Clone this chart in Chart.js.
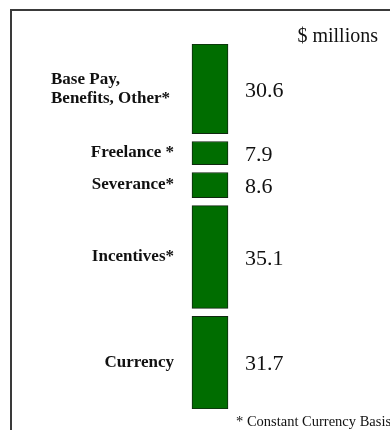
<!DOCTYPE html>
<html lang="en">
<head>
    <meta charset="UTF-8">
    <title>Cost breakdown</title>
    <script src="https://cdn.jsdelivr.net/npm/chart.js"></script>
    <style>
        html, body {
            margin: 0;
            padding: 0;
            background: #fff;
            overflow: hidden;
        }
        #wrap {
            position: relative;
            width: 390px;
            height: 430px;
        }
        #chart {
            position: absolute;
            left: 0;
            top: 0;
        }
        .frame {
            position: absolute;
            left: 10px;
            top: 9px;
            width: 400px;
            height: 440px;
            border: 2px solid #3a3a3a;
            pointer-events: none;
        }
        .note {
            position: absolute;
            left: 236px;
            top: 413px;
            font-family: "Liberation Serif", serif;
            font-size: 14.5px;
            color: #111;
            white-space: nowrap;
        }
    </style>
</head>
<body>
    <div id="wrap">
        <canvas id="chart" width="390" height="430"></canvas>
        <div class="frame"></div>
        <div class="note" id="note"></div>
    </div>

    <script>
        // data, top segment first
        const categories = [['Base Pay,', 'Benefits, Other*'], 'Freelance *', 'Severance*', 'Incentives*', 'Currency'];
        const values = [30.6, 7.9, 8.6, 35.1, 31.7];
        const unitLabel = '$ millions';
        const footnote = '* Constant Currency Basis';

        document.getElementById('note').textContent = footnote;

        // gap between segments, in value units
        const gap = 2.7;
        const ranges = [];
        let start = 0;
        values.forEach(function (v) {
            ranges.push([start, start + v]);
            start += v + gap;
        });
        const total = start - gap;

        const datasets = values.map(function (v, i) {
            return {
                label: Array.isArray(categories[i]) ? categories[i].join(' ') : categories[i],
                data: [ranges[i]],
                backgroundColor: '#006d00',
                borderColor: '#102810',
                borderWidth: 1,
                borderSkipped: false,
                barThickness: 36
            };
        });

        // category names left of the column, values right of it
        const segmentLabels = {
            id: 'segmentLabels',
            afterDatasetsDraw(chart) {
                const ctx = chart.ctx;
                ctx.save();
                ctx.fillStyle = '#111';
                ctx.textBaseline = 'middle';
                chart.data.datasets.forEach(function (ds, i) {
                    const bar = chart.getDatasetMeta(i).data[0];
                    const mid = (bar.y + bar.base) / 2;
                    const left = bar.x - bar.width / 2;
                    const right = bar.x + bar.width / 2;

                    ctx.font = 'bold 17px "Liberation Serif"';
                    const name = categories[i];
                    if (Array.isArray(name)) {
                        let w = 0;
                        name.forEach(function (t) { w = Math.max(w, ctx.measureText(t).width); });
                        ctx.textAlign = 'left';
                        const lh = 19;
                        name.forEach(function (t, k) {
                            ctx.fillText(t, left - 22 - w, mid + (k - (name.length - 1) / 2) * lh);
                        });
                    } else {
                        ctx.textAlign = 'right';
                        ctx.fillText(name, left - 18, mid);
                    }

                    ctx.font = '22px "Liberation Serif"';
                    ctx.textAlign = 'left';
                    ctx.fillText(values[i].toFixed(1), right + 17, mid + 2);
                });
                ctx.restore();
            }
        };

        new Chart(document.getElementById('chart'), {
            type: 'bar',
            data: {
                labels: [''],
                datasets: datasets
            },
            options: {
                responsive: false,
                animation: false,
                layout: {
                    padding: { left: 42, right: 12, top: 0, bottom: 21 }
                },
                scales: {
                    x: { stacked: true, display: false },
                    y: { display: false, reverse: true, min: 0, max: total }
                },
                plugins: {
                    legend: { display: false },
                    tooltip: { enabled: false },
                    title: {
                        display: true,
                        text: unitLabel,
                        align: 'end',
                        color: '#111',
                        font: { family: 'Liberation Serif', size: 20, weight: 'normal', lineHeight: 1 },
                        padding: { top: 27, bottom: -3 }
                    }
                }
            },
            plugins: [segmentLabels]
        });
    </script>
</body>
</html>
